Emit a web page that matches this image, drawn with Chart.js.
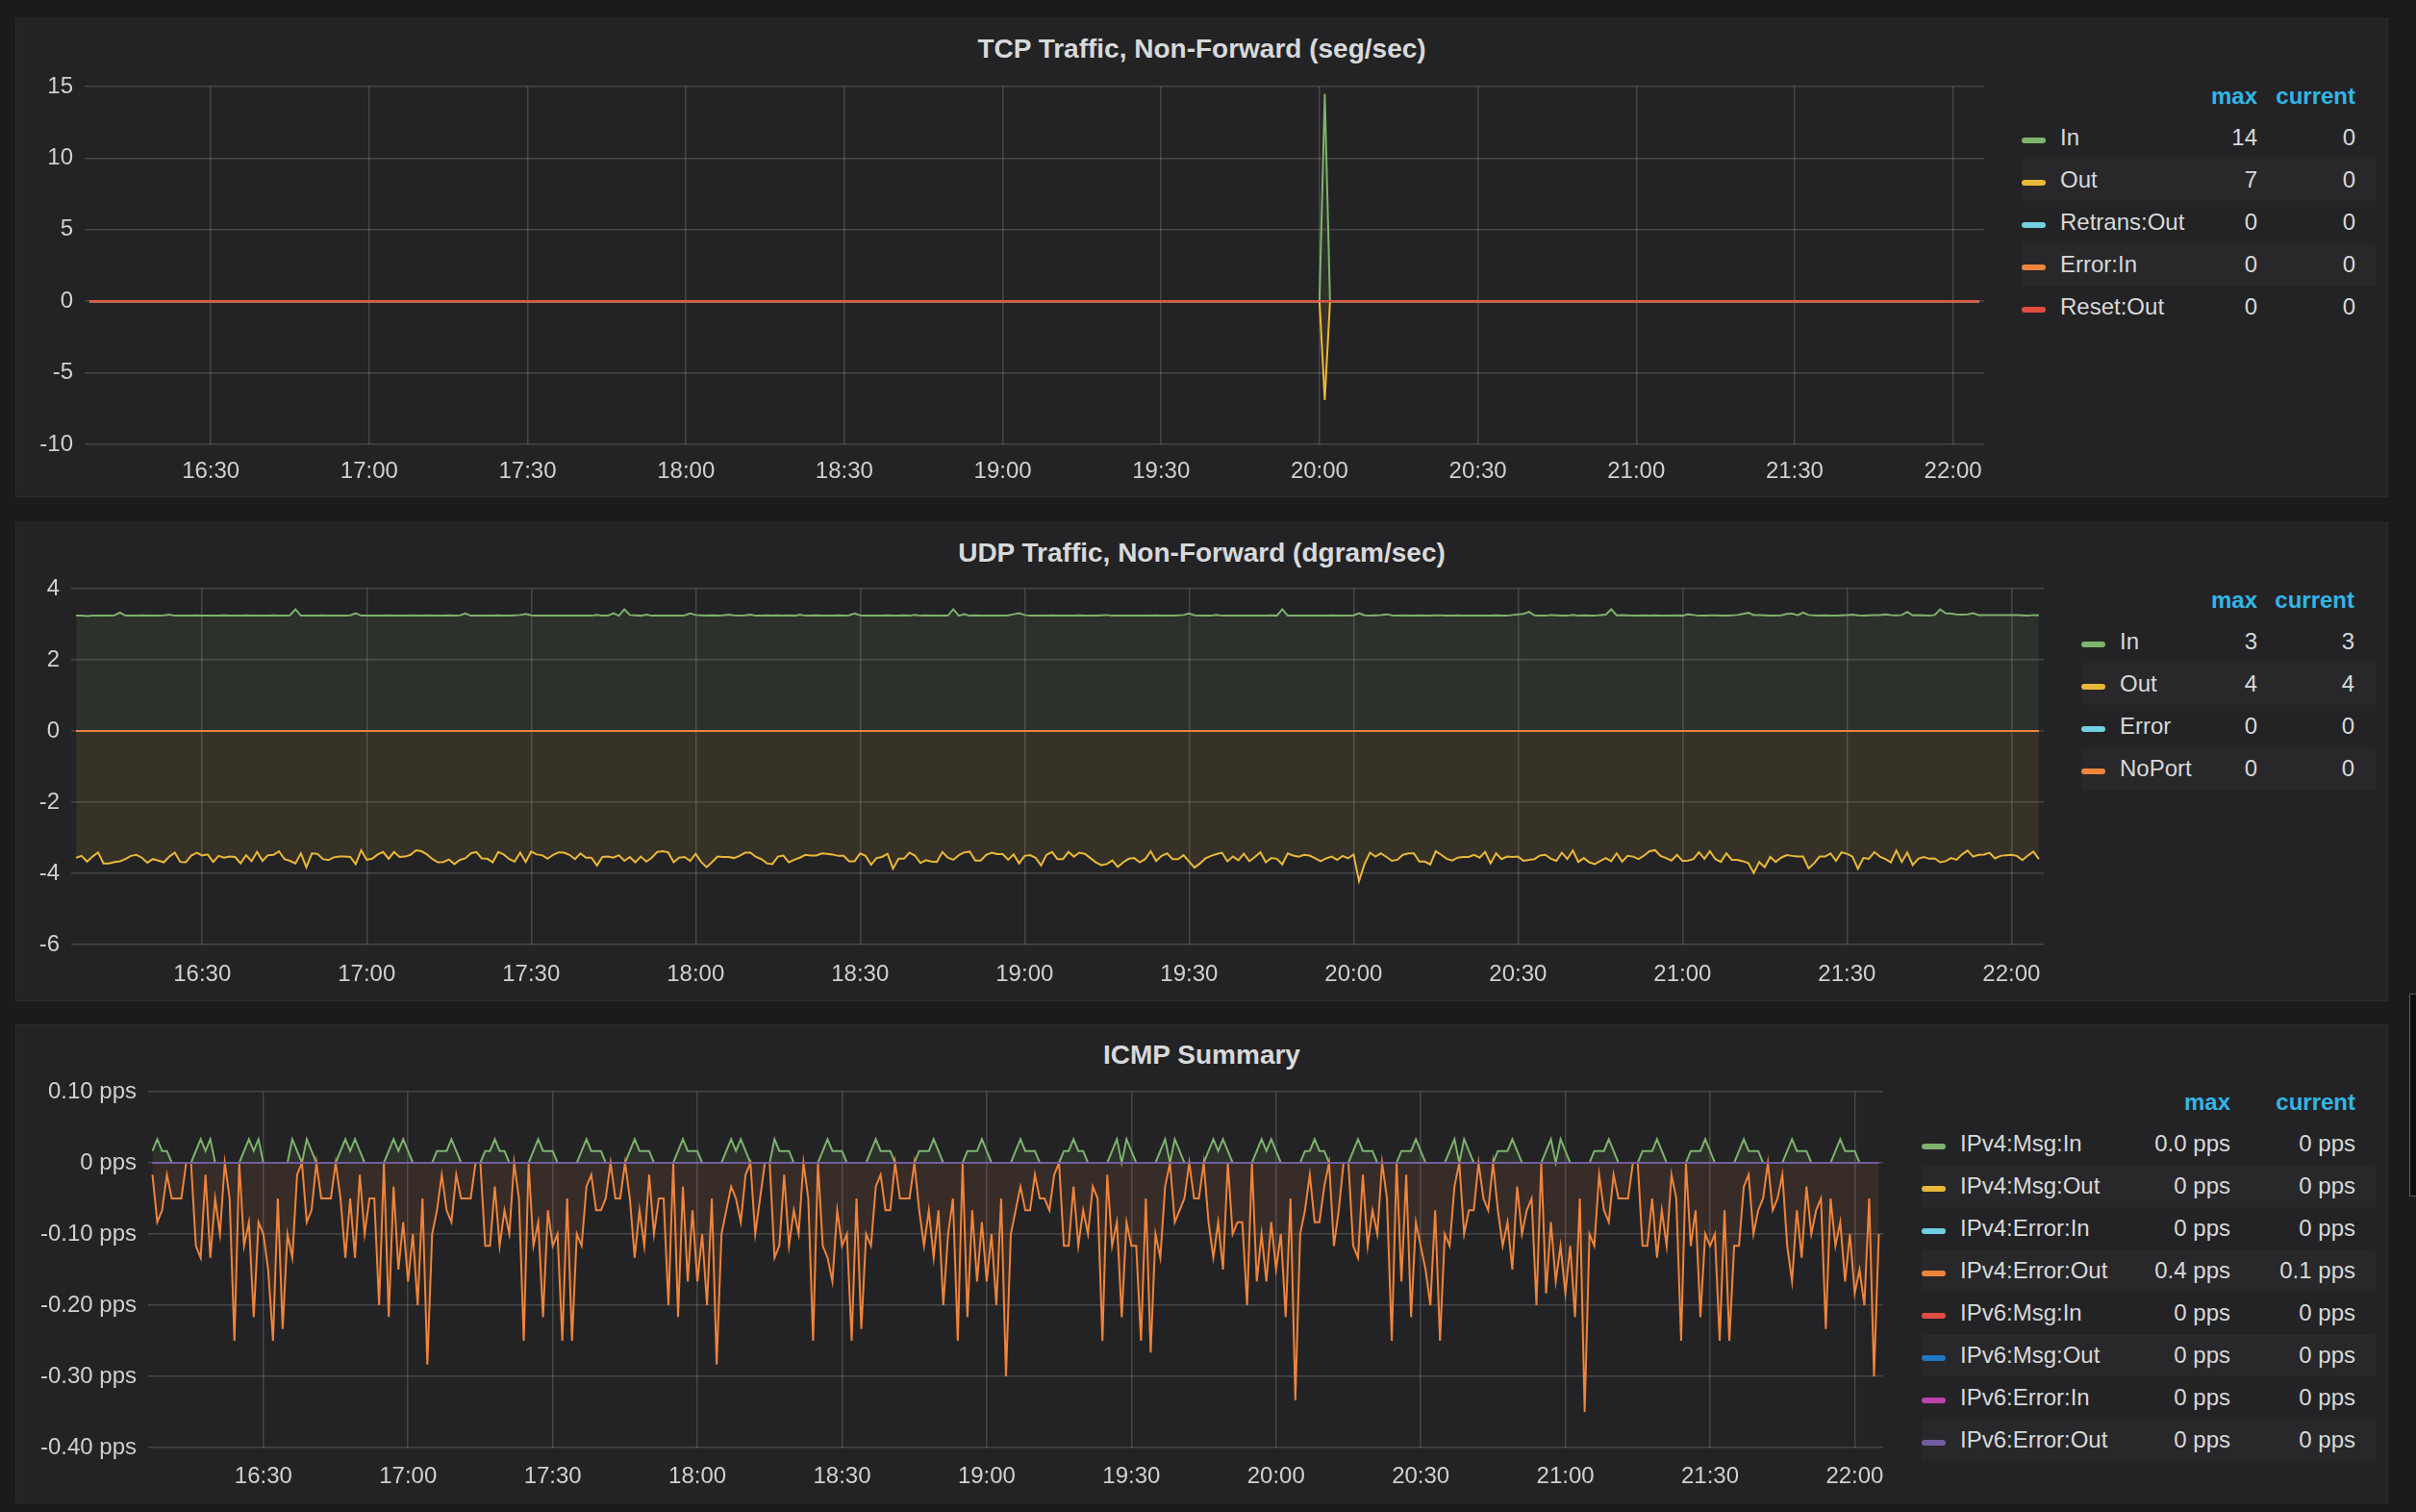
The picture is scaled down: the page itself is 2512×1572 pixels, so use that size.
<!DOCTYPE html>
<html>
<head>
<meta charset="utf-8">
<title>Network</title>
<script src="https://cdn.jsdelivr.net/npm/chart.js@4.4.1/dist/chart.umd.min.js"></script>
<style>
  html, body { margin: 0; padding: 0; }
  body { width: 2512px; height: 1572px; background: #1b1b1c; position: relative; overflow: hidden;
         font-family: 'Liberation Sans', Arial, sans-serif; color: #d8d9da; }
  .panel { position: absolute; left: 16px; width: 2467px; height: 498px; background: #232325;
           border: 1px solid #2c2c2e; box-sizing: border-box; }
  .title { position: absolute; left: 16px; width: 2467px; text-align: center; font-size: 28px;
           font-weight: bold; height: 34px; line-height: 34px; color: #d8d9da; }
  canvas { position: absolute; }
  .lg { position: absolute; height: 44px; line-height: 44px; font-size: 24px; white-space: nowrap; }
  .hd { color: #33b5e5; font-weight: bold; }
  .band { position: absolute; height: 44px; background: #28282a; }
  .sw { position: absolute; width: 25px; height: 6px; border-radius: 3px; }
  .scroll { position: absolute; left: 2505px; top: 1033px; width: 7px; height: 211px;
            background: #0e0e0f; border: 1px solid #5a5a5c; border-right: none; box-sizing: border-box; }
</style>
</head>
<body>
<div class="panel" style="top:19px"></div>
<div class="panel" style="top:543px"></div>
<div class="panel" style="top:1065px"></div>
<div class="title" style="top:34px">TCP Traffic, Non-Forward (seg/sec)</div>
<div class="title" style="top:558px">UDP Traffic, Non-Forward (dgram/sec)</div>
<div class="title" style="top:1080px">ICMP Summary</div>
<canvas id="tcpChart"></canvas>
<canvas id="udpChart"></canvas>
<canvas id="icmpChart"></canvas>
<div id="legends"></div>
<div class="scroll"></div>

<script>
// x axis tick labels (time of day)
const xTickLabels = ['16:30', '17:00', '17:30', '18:00', '18:30', '19:00', '19:30', '20:00', '20:30', '21:00', '21:30', '22:00'];
// dense series: one sample per minute starting here
const sampleStart = '16:07';

// TCP: flat zero except the spike just after 20:00
const tcpTimes = ['16:07', '20:00', '20:01', '20:02', '22:05'];
const tcpIn = [0, 0, 14.5, 0, 0];
const tcpOut = [0, 0, 6.9, 0, 0];
const tcpRetransOut = [0, 0, 0, 0, 0];
const tcpErrorIn = [0, 0, 0, 0, 0];
const tcpResetOut = [0, 0, 0, 0, 0];
const tcpYTicks = [15, 10, 5, 0, -5, -10];
const tcpNames = ['In', 'Out', 'Retrans:Out', 'Error:In', 'Reset:Out'];
const tcpMax = ['14', '7', '0', '0', '0'];
const tcpCurrent = ['0', '0', '0', '0', '0'];

// UDP dgram/sec, one per minute
const udpIn = [
  3.24,3.24,3.23,3.24,3.24,3.24,3.24,3.25,3.33,3.24,
  3.24,3.24,3.25,3.24,3.24,3.24,3.25,3.27,3.24,3.24,
  3.24,3.24,3.25,3.24,3.24,3.24,3.24,3.25,3.24,3.24,
  3.24,3.25,3.24,3.24,3.24,3.24,3.25,3.24,3.24,3.25,
  3.42,3.24,3.24,3.24,3.24,3.25,3.24,3.24,3.24,3.24,
  3.25,3.31,3.24,3.24,3.24,3.24,3.24,3.25,3.24,3.24,
  3.24,3.25,3.24,3.24,3.25,3.24,3.24,3.24,3.25,3.24,
  3.25,3.30,3.24,3.24,3.24,3.24,3.24,3.25,3.24,3.24,
  3.25,3.26,3.29,3.25,3.24,3.24,3.24,3.24,3.24,3.24,
  3.24,3.24,3.24,3.24,3.24,3.26,3.24,3.24,3.31,3.24,
  3.42,3.26,3.25,3.24,3.27,3.24,3.24,3.24,3.24,3.24,
  3.24,3.25,3.30,3.26,3.25,3.24,3.25,3.24,3.25,3.27,
  3.25,3.24,3.25,3.27,3.24,3.24,3.25,3.24,3.25,3.24,
  3.25,3.24,3.27,3.24,3.24,3.25,3.24,3.24,3.24,3.25,
  3.24,3.25,3.30,3.25,3.24,3.24,3.24,3.24,3.25,3.24,
  3.24,3.25,3.24,3.26,3.24,3.25,3.24,3.24,3.24,3.24,
  3.42,3.24,3.28,3.24,3.25,3.24,3.24,3.24,3.24,3.24,
  3.25,3.28,3.31,3.26,3.24,3.24,3.24,3.24,3.25,3.24,
  3.24,3.24,3.24,3.25,3.24,3.24,3.24,3.25,3.26,3.24,
  3.24,3.24,3.24,3.24,3.24,3.24,3.24,3.25,3.24,3.24,
  3.24,3.25,3.26,3.30,3.25,3.24,3.24,3.24,3.26,3.24,
  3.24,3.24,3.24,3.24,3.24,3.24,3.24,3.24,3.25,3.24,
  3.42,3.24,3.24,3.24,3.24,3.24,3.24,3.24,3.24,3.25,
  3.24,3.24,3.24,3.25,3.31,3.25,3.24,3.25,3.26,3.28,
  3.25,3.24,3.25,3.24,3.24,3.25,3.24,3.24,3.25,3.25,
  3.24,3.24,3.25,3.24,3.24,3.24,3.24,3.24,3.24,3.25,
  3.24,3.24,3.26,3.28,3.29,3.35,3.25,3.24,3.24,3.26,
  3.25,3.24,3.24,3.26,3.24,3.25,3.24,3.24,3.26,3.27,
  3.42,3.25,3.26,3.25,3.24,3.24,3.25,3.24,3.25,3.24,
  3.24,3.24,3.25,3.24,3.28,3.26,3.24,3.24,3.25,3.25,
  3.24,3.24,3.25,3.26,3.29,3.32,3.26,3.26,3.25,3.24,
  3.24,3.25,3.29,3.30,3.25,3.33,3.26,3.25,3.24,3.25,
  3.24,3.24,3.25,3.26,3.27,3.25,3.24,3.25,3.26,3.26,
  3.28,3.26,3.25,3.26,3.35,3.25,3.26,3.25,3.24,3.26,
  3.42,3.31,3.30,3.28,3.27,3.28,3.31,3.26,3.26,3.26,
  3.26,3.26,3.26,3.26,3.26,3.25,3.24,3.26,3.25
];
// Out is drawn below zero (negative-Y)
const udpOut = [
  3.56,3.51,3.67,3.53,3.41,3.72,3.72,3.68,3.66,3.60,
  3.51,3.48,3.56,3.70,3.60,3.64,3.69,3.53,3.42,3.68,
  3.69,3.50,3.42,3.50,3.47,3.68,3.51,3.56,3.53,3.54,
  3.72,3.49,3.66,3.40,3.65,3.49,3.48,3.38,3.60,3.65,
  3.72,3.44,3.83,3.44,3.45,3.60,3.63,3.55,3.53,3.53,
  3.54,3.74,3.35,3.62,3.59,3.47,3.40,3.59,3.40,3.54,
  3.53,3.48,3.35,3.38,3.47,3.60,3.69,3.68,3.61,3.74,
  3.62,3.58,3.44,3.40,3.58,3.59,3.69,3.40,3.47,3.60,
  3.67,3.42,3.68,3.39,3.47,3.49,3.59,3.48,3.41,3.42,
  3.48,3.60,3.44,3.56,3.56,3.78,3.54,3.53,3.56,3.49,
  3.65,3.54,3.69,3.53,3.67,3.56,3.40,3.38,3.41,3.69,
  3.56,3.54,3.65,3.45,3.68,3.83,3.68,3.53,3.54,3.54,
  3.57,3.51,3.42,3.42,3.54,3.60,3.72,3.74,3.53,3.50,
  3.69,3.62,3.56,3.48,3.50,3.50,3.44,3.45,3.47,3.51,
  3.51,3.66,3.66,3.44,3.51,3.76,3.57,3.54,3.45,3.87,
  3.59,3.59,3.42,3.50,3.71,3.63,3.67,3.68,3.40,3.56,
  3.62,3.49,3.41,3.39,3.64,3.64,3.48,3.42,3.46,3.46,
  3.62,3.47,3.72,3.51,3.49,3.56,3.78,3.48,3.40,3.60,
  3.60,3.40,3.53,3.42,3.45,3.57,3.69,3.77,3.74,3.64,
  3.82,3.69,3.59,3.57,3.69,3.60,3.38,3.65,3.51,3.44,
  3.60,3.60,3.49,3.67,3.84,3.72,3.58,3.51,3.46,3.42,
  3.66,3.53,3.63,3.45,3.66,3.54,3.41,3.69,3.57,3.59,
  3.75,3.44,3.50,3.53,3.48,3.50,3.58,3.66,3.58,3.53,
  3.62,3.51,3.58,3.47,4.22,3.74,3.42,3.53,3.44,3.54,
  3.65,3.62,3.48,3.44,3.44,3.67,3.67,3.75,3.38,3.48,
  3.59,3.64,3.56,3.54,3.54,3.48,3.56,3.40,3.72,3.44,
  3.60,3.53,3.54,3.53,3.65,3.62,3.60,3.50,3.48,3.59,
  3.65,3.42,3.60,3.36,3.68,3.57,3.69,3.74,3.65,3.57,
  3.66,3.44,3.67,3.51,3.53,3.60,3.50,3.38,3.35,3.51,
  3.57,3.64,3.48,3.65,3.64,3.60,3.41,3.59,3.38,3.60,
  3.68,3.44,3.62,3.62,3.66,3.71,3.99,3.68,3.83,3.54,
  3.68,3.56,3.49,3.51,3.53,3.53,3.86,3.72,3.53,3.53,
  3.44,3.65,3.41,3.45,3.53,3.87,3.57,3.59,3.40,3.53,
  3.60,3.69,3.36,3.68,3.42,3.77,3.59,3.54,3.59,3.58,
  3.69,3.66,3.57,3.62,3.47,3.36,3.53,3.48,3.47,3.42,
  3.58,3.51,3.49,3.48,3.51,3.63,3.50,3.39,3.60
];
const zeroTimes = ['16:07', '22:05'];
const zeroLine = [0, 0];
const udpYTicks = [4, 2, 0, -2, -4, -6];
const udpNames = ['In', 'Out', 'Error', 'NoPort'];
const udpMax = ['3', '4', '0', '0'];
const udpCurrent = ['3', '4', '0', '0'];

// ICMP packets per minute (shown as pps)
const icmpMsgIn = [
  1,2,1,1,0,0,0,0,0,1, 2,1,2,0,0,0,0,0,0,1, 2,1,2,0,0,0,0,0,0,2, 1,0,2,1,0,0,0,0,0,1,
  2,1,2,1,0,0,0,0,0,1, 2,1,2,1,0,0,0,0,0,1, 1,1,2,1,0,0,0,0,0,1, 1,2,1,1,0,0,0,0,0,1,
  2,1,1,1,0,0,0,0,0,1, 2,1,1,1,0,0,0,0,0,1, 2,1,1,1,0,0,0,0,0,1, 2,1,1,1,0,0,0,0,0,1,
  2,1,2,1,0,0,0,0,0,2, 1,1,1,0,0,0,0,0,0,1, 2,1,1,1,0,0,0,0,0,1, 2,1,1,1,0,0,0,0,0,1,
  1,1,2,1,0,0,0,0,0,1, 1,1,2,1,0,0,0,0,0,1, 2,1,1,1,0,0,0,0,0,1, 1,2,1,1,0,0,0,0,0,1,
  2,0,2,1,0,0,0,0,0,1, 2,0,2,1,0,0,0,0,0,1, 2,1,2,1,0,0,0,0,0,1, 2,1,2,1,0,0,0,0,0,1,
  1,2,1,1,0,0,0,0,0,1, 2,1,1,1,0,0,0,0,0,1, 1,1,2,1,0,0,0,0,0,1, 2,0,2,1,0,0,0,0,0,1,
  1,1,2,1,0,0,0,0,0,1, 2,0,2,1,0,0,0,0,0,1, 1,1,2,1,0,0,0,0,0,1, 1,1,2,1,0,0,0,0,0,1,
  1,1,2,1,0,0,0,0,0,1, 2,1,1,1,0,0,0,0,0,1, 2,1,1,1,0,0,0,0,0,1, 2,1,1,1,0,0,0,0,0
];
const icmpErrorOut = [
  1,5,4,1,3,3,3,0,0,7, 8,1,8,3,6,0,3,15,0,7, 5,13,5,6,9,15,3,14,6,8, 1,0,5,4,0,3,3,3,0,3,
  8,3,8,1,6,3,3,12,0,13, 2,9,5,10,6,12,3,17,6,4, 1,4,5,1,3,3,3,0,0,7, 7,2,7,4,6,0,3,15,0,7,
  5,13,4,7,6,15,3,15,6,7, 2,1,4,4,3,0,3,3,0,3, 8,4,7,1,6,3,3,12,0,13, 2,10,4,10,6,12,3,17,6,4,
  2,3,5,1,0,6,3,0,0,8, 7,1,7,4,6,0,3,15,0,7, 8,10,4,7,6,15,3,14,6,7, 2,1,4,4,0,3,3,3,0,4,
  7,4,8,4,12,6,3,15,0,13, 4,10,5,10,6,12,3,18,6,4, 2,4,4,1,3,3,4,1,0,7, 7,2,7,4,6,2,3,15,1,7,
  5,13,5,7,7,15,3,16,6,8, 2,0,5,4,3,0,3,3,0,5, 8,5,9,0,6,5,5,12,0,10, 6,10,5,9,6,13,3,20,6,4,
  1,5,5,2,0,7,4,0,0,7, 8,1,7,4,6,0,3,15,0,10, 1,13,5,7,9,12,4,15,6,7, 2,0,6,4,4,0,3,4,0,4,
  7,5,9,2,6,4,3,12,0,11, 5,10,7,11,7,13,3,21,6,7, 1,4,5,1,3,3,3,0,0,7, 7,3,8,4,7,1,3,15,0,7,
  4,13,6,7,6,15,4,15,7,7, 2,1,6,4,3,0,4,3,1,7, 10,4,8,2,6,4,3,14,3,7, 5,10,6,11,9,12,3,18,6
];
const icmpYTicks = [0.1, 0, -0.1, -0.2, -0.3, -0.4];
const icmpYLabels = ['0.10 pps', '0 pps', '-0.10 pps', '-0.20 pps', '-0.30 pps', '-0.40 pps'];
const icmpNames = ['IPv4:Msg:In', 'IPv4:Msg:Out', 'IPv4:Error:In', 'IPv4:Error:Out',
                   'IPv6:Msg:In', 'IPv6:Msg:Out', 'IPv6:Error:In', 'IPv6:Error:Out'];
const icmpMax = ['0.0 pps', '0 pps', '0 pps', '0.4 pps', '0 pps', '0 pps', '0 pps', '0 pps'];
const icmpCurrent = ['0 pps', '0 pps', '0 pps', '0.1 pps', '0 pps', '0 pps', '0 pps', '0 pps'];

const palette = ['#7eb26d', '#eab839', '#6ed0e0', '#ef843c', '#e24d42', '#1f78c1', '#ba43a9', '#705da0'];

const fontFamily = "'Liberation Sans', Arial, sans-serif";
const tickColor = '#cfd0d1';
const gridColor = 'rgba(255,255,255,0.16)';
Chart.defaults.font.family = fontFamily;

function toMin(t) {
    const p = t.split(':');
    return Number(p[0]) * 60 + Number(p[1]);
}
const t0 = toMin(sampleStart);
const xTicks = xTickLabels.map(toMin);
// visible window, in minutes of the day
const xMin = 966.1, xMax = 1325.9;

function dense(arr, k) {
    return arr.map((v, i) => ({ x: t0 + i, y: v * k }));
}
function sparse(times, arr, k) {
    return times.map((t, i) => ({ x: toMin(t), y: arr[i] * k }));
}
function rgba(hex, a) {
    const n = parseInt(hex.slice(1), 16);
    return `rgba(${n >> 16},${(n >> 8) & 255},${n & 255},${a})`;
}
function series(label, color, data, filled) {
    return {
        label: label,
        data: data,
        borderColor: color,
        backgroundColor: rgba(color, 0.1),
        fill: filled ? 'origin' : false,
        borderWidth: 2,
        pointRadius: 0,
        tension: 0
    };
}

function drawPanel(id, box, datasets, yTicks, yLabels) {
    const cv = document.getElementById(id);
    cv.width = box.w;
    cv.height = box.h;
    cv.style.left = box.x + 'px';
    cv.style.top = box.y + 'px';
    // later series are painted on top, like the original
    datasets.forEach((d, i) => { d.order = datasets.length - i; });
    return new Chart(cv, {
        type: 'line',
        data: { datasets: datasets },
        options: {
            responsive: false,
            animation: false,
            events: [],
            layout: { padding: { top: 30, right: 20, bottom: 0, left: 0 } },
            plugins: { legend: { display: false }, tooltip: { enabled: false } },
            scales: {
                x: {
                    type: 'linear',
                    min: xMin,
                    max: xMax,
                    grid: { color: gridColor, lineWidth: 1.5, drawTicks: false },
                    border: { display: false },
                    ticks: {
                        color: tickColor, font: { size: 24 }, padding: box.xp,
                        maxRotation: 0, autoSkip: false,
                        callback: (v, i) => xTickLabels[i]
                    },
                    afterBuildTicks: axis => { axis.ticks = xTicks.map(v => ({ value: v })); },
                    afterFit: axis => { axis.height = box.xh; }
                },
                y: {
                    type: 'linear',
                    min: yTicks[yTicks.length - 1],
                    max: yTicks[0],
                    grid: { color: gridColor, lineWidth: 1.5, drawTicks: false },
                    border: { display: false },
                    ticks: {
                        color: tickColor, font: { size: 24 }, padding: 12,
                        callback: (v, i) => yLabels[i]
                    },
                    afterBuildTicks: axis => { axis.ticks = yTicks.map(v => ({ value: v })); },
                    afterFit: axis => { axis.width = box.yw; }
                }
            }
        }
    });
}

// TCP
drawPanel('tcpChart', { x: 16, y: 60, w: 2067, h: 462, yw: 72, xh: 60, xp: 14 }, [
    series('In', palette[0], sparse(tcpTimes, tcpIn, 1), true),
    series('Out', palette[1], sparse(tcpTimes, tcpOut, -1), true),
    series('Retrans:Out', palette[2], sparse(tcpTimes, tcpRetransOut, -1), false),
    series('Error:In', palette[3], sparse(tcpTimes, tcpErrorIn, 1), false),
    series('Reset:Out', palette[4], sparse(tcpTimes, tcpResetOut, -1), false)
], tcpYTicks, tcpYTicks.map(String));

// UDP
drawPanel('udpChart', { x: 16, y: 582, w: 2129, h: 458, yw: 58, xh: 58, xp: 17 }, [
    series('In', palette[0], dense(udpIn, 1), true),
    series('Out', palette[1], dense(udpOut, -1), true),
    series('Error', palette[2], sparse(zeroTimes, zeroLine, 1), false),
    series('NoPort', palette[3], sparse(zeroTimes, zeroLine, 1), false)
], udpYTicks, udpYTicks.map(String));

// ICMP
const icmpSets = icmpNames.map((name, i) => {
    if (name === 'IPv4:Msg:In') return series(name, palette[i], dense(icmpMsgIn, 1 / 60), true);
    if (name === 'IPv4:Error:Out') return series(name, palette[i], dense(icmpErrorOut, -1 / 60), true);
    return series(name, palette[i], sparse(zeroTimes, zeroLine, 1), false);
});
drawPanel('icmpChart', { x: 16, y: 1105, w: 1962, h: 457, yw: 138, xh: 57, xp: 16 }, icmpSets, icmpYTicks, icmpYLabels);

// legends (grafana style table)
const legendHost = document.getElementById('legends');
function place(cls, css, text) {
    const d = document.createElement('div');
    d.className = cls;
    d.style.cssText = css;
    if (text !== undefined) d.textContent = text;
    legendHost.appendChild(d);
}
function buildLegend(top, L, names, maxV, curV) {
    const hy = top + 81;
    place('lg hd', `top:${hy - 22}px;right:${2512 - L.maxR}px;text-align:right`, 'max');
    place('lg hd', `top:${hy - 22}px;right:${2512 - L.curR}px;text-align:right`, 'current');
    names.forEach((name, i) => {
        const cy = top + 123.5 + i * 44;
        if (i % 2 === 1) {
            place('band', `top:${cy - 22}px;left:${L.sw}px;width:${2470 - L.sw}px`);
        }
        place('sw', `top:${cy}px;left:${L.sw}px;background:${palette[i]}`);
        place('lg', `top:${cy - 22}px;left:${L.sw + 40}px`, name);
        place('lg', `top:${cy - 22}px;right:${2512 - L.maxR}px;text-align:right`, maxV[i]);
        place('lg', `top:${cy - 22}px;right:${2512 - L.curR}px;text-align:right`, curV[i]);
    });
}
buildLegend(19, { sw: 2102, maxR: 2347, curR: 2449 }, tcpNames, tcpMax, tcpCurrent);
buildLegend(543, { sw: 2164, maxR: 2347, curR: 2448 }, udpNames, udpMax, udpCurrent);
buildLegend(1065, { sw: 1998, maxR: 2319, curR: 2449 }, icmpNames, icmpMax, icmpCurrent);
</script>
</body>
</html>
